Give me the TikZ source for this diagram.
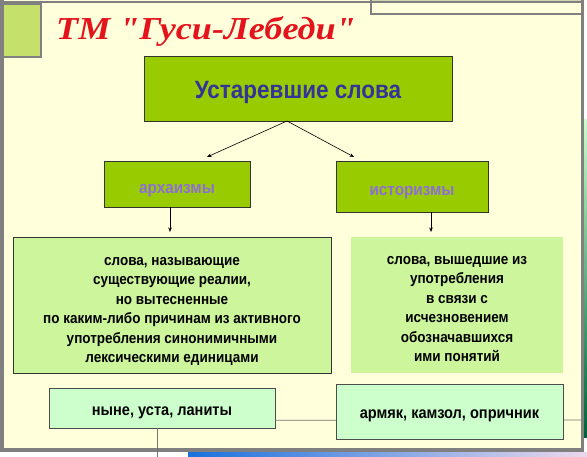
\documentclass[tikz,border=0pt]{standalone}
\usepackage{fontspec}
\setmainfont{Liberation Sans}
\newfontfamily\nsans{Liberation Sans}[FakeStretch=0.9]
\newfontfamily\tfont{Liberation Serif}[FakeStretch=1.13]
\usetikzlibrary{arrows.meta,calc}
\definecolor{bgc}{HTML}{FFFFDC}
\definecolor{framec}{HTML}{808080}
\definecolor{sqc}{HTML}{C5E06B}
\definecolor{limec}{HTML}{99CC00}
\definecolor{defc}{HTML}{CCF59C}
\definecolor{exc}{HTML}{CCFFCC}
\definecolor{titc}{HTML}{E3141C}
\definecolor{mainc}{HTML}{333399}
\definecolor{catc}{HTML}{8E6FD8}
\definecolor{khaki}{HTML}{D2D2B0}
% shift text visibly down by #1 pt inside its node
\newcommand{\lowr}[2]{\raisebox{0pt}[\dimexpr\height+#1pt*2\relax][\depth]{#2}}
\newcommand{\stackc}[1]{\begin{tabular}{@{}c@{}}#1\end{tabular}}
\tikzset{
  mainbox/.style={draw=black!80, line width=0.7pt, fill=limec, inner sep=0pt,
    font=\nsans\bfseries\fontsize{25}{30}\selectfont, text=mainc},
  catbox/.style={draw=black!80, line width=0.7pt, fill=limec, inner sep=0pt,
    font=\nsans\bfseries\fontsize{17}{20}\selectfont, text=catc},
  defbox/.style={fill=defc, inner sep=0pt,
    font=\nsans\bfseries\fontsize{15}{19.5}\selectfont},
  exbox/.style={draw=black!70, line width=0.7pt, fill=exc, inner sep=0pt,
    font=\nsans\bfseries\fontsize{16.2}{20}\selectfont},
  arr/.style={line width=0.6pt, -{Stealth[length=4.5pt,width=3.5pt]}},
  thinline/.style={draw=black!55, line width=0.8pt},
}
\begin{document}
\begin{tikzpicture}[x=1pt,y=-1pt]
\useasboundingbox (0,0) rectangle (587,457);
% background
\fill[bgc] (0,0) rectangle (587,457);
\fill[white] (584,0) rectangle (587,457);
\shade[top color=black!5!green!20!white, bottom color=teal!75!green!60!black] (584,120) rectangle (587,437);
\fill[white] (0,452) rectangle (587,457);
\shade[left color=blue!55!cyan!85!black!90, right color=violet!15!white] (188,452) rectangle (587,457);
% top-right strip
\fill[khaki] (371,0) rectangle (582,3);
\draw[framec, line width=1.2pt] (371,0) -- (371,14) -- (582,14);
% frame
\fill[framec] (0,1) rectangle (584,3);
\fill[framec] (0,0) rectangle (3.5,452);
\fill[framec] (580.5,0) rectangle (584,452);
\fill[framec] (0,448) rectangle (584,452);
% corner square
\draw[fill=sqc, draw=framec, line width=1.5pt] (3.5,4) rectangle (41,57);
% title
\node[anchor=base west, inner sep=0pt, text=titc, font=\tfont\bfseries\itshape\fontsize{32}{36}\selectfont] (title) at (56,40) {ТМ "Гуси-Лебеди"};
% nodes
\node[mainbox, minimum width=308pt, minimum height=65pt] (main) at (298,88.5) {\lowr{3.5}{Устаревшие слова}};
\node[catbox, minimum width=146pt, minimum height=46pt] (arch) at (177,184) {\lowr{6.5}{архаизмы}};
\node[catbox, minimum width=152pt, minimum height=51pt] (hist) at (412,186.5) {\lowr{6}{историзмы}};
\node[defbox, draw=black!80, line width=0.7pt, minimum width=318pt, minimum height=136pt] (defA) at (172,305)
  {\lowr{5}{\stackc{слова, называющие\\существующие реалии,\\но вытесненные\\по каким-либо причинам из активного\\употребления синонимичными\\лексическими единицами}}};
\node[defbox, minimum width=212pt, minimum height=136pt] (defH) at (457,305)
  {\lowr{4}{\stackc{слова, вышедшие из\\употребления\\в связи с\\исчезновением\\обозначавшихся\\ими понятий}}};
% connector lines behind example boxes
\coordinate (rightend) at (582,420);
\coordinate (bottomend) at (157,457);
\node[exbox, minimum width=226pt, minimum height=40pt] (exA) at (162,408) {\lowr{5}{ныне, уста, ланиты}};
\draw[thinline] ($(exA.south east)+(0,-8)$) -- (rightend);
\draw[thinline] (exA.south -| bottomend) -- (bottomend);
\node[exbox, minimum width=227pt, minimum height=55pt] (exH) at (449.5,411.5) {\lowr{4.5}{армяк, камзол, опричник}};
% arrows
\coordinate (split) at (287,121);
\coordinate (archtip) at (207,157);
\coordinate (histtip) at (354,157);
\draw[arr] (split) -- (archtip);
\draw[arr] (split) -- (histtip);
\draw[arr] (arch.south -| 170,0) -- (170,232);
\draw[arr] (hist.south -| 431,0) -- (431,232);
\end{tikzpicture}
\end{document}
